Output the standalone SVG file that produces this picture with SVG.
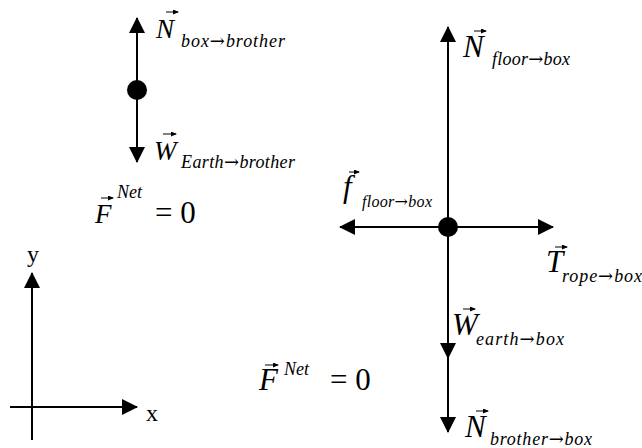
<svg xmlns="http://www.w3.org/2000/svg" width="642" height="448" viewBox="0 0 642 448">
<defs>
<marker id="ah" markerUnits="userSpaceOnUse" markerWidth="16" markerHeight="16" refX="15" refY="8" orient="auto"><path d="M0,0 L16,8 L0,16 z" fill="#000"/></marker>
<marker id="va" markerUnits="userSpaceOnUse" markerWidth="6" markerHeight="6" refX="5" refY="2.5" orient="auto"><path d="M0,0 L6,2.5 L0,5 z" fill="#000"/></marker>
<style>
.ln{stroke:#000;stroke-width:2;fill:none}
.ar{marker-end:url(#ah)}
.vec{stroke:#000;stroke-width:1;marker-end:url(#va)}
text{font-family:"Liberation Serif","Times New Roman",serif;fill:#000}
.m{font-style:italic;font-size:27px}
.M{font-style:italic;font-size:31px}
.s{font-style:italic;font-size:18px}
.t{font-style:italic;font-size:16px}
.a{font-family:"DejaVu Serif",serif;font-style:normal}
.n{font-size:31px}
.ax{font-size:24px}
</style>
</defs>
<g id="connectors">
<line class="ln ar" x1="137" y1="90" x2="137" y2="18"/>
<line class="ln ar" x1="137" y1="90" x2="137" y2="162"/>
<line class="ln ar" x1="448" y1="227" x2="448" y2="27"/>
<line class="ln ar" x1="448" y1="227" x2="448" y2="358"/>
<line class="ln ar" x1="448" y1="356" x2="448" y2="432"/>
<line class="ln ar" x1="448" y1="227" x2="340" y2="227"/>
<line class="ln ar" x1="448" y1="227" x2="553" y2="227"/>
<line class="ln ar" x1="32" y1="440" x2="32" y2="273"/>
<line class="ln ar" x1="10" y1="407" x2="137" y2="407"/>
</g>
<g id="brother">
<circle cx="137" cy="90" r="10" fill="#000"/>
</g>
<g id="box">
<circle cx="448" cy="227" r="10" fill="#000"/>
</g>
<g id="label-N-box-brother">
<text class="m" x="156" y="38">N</text><line class="vec" x1="166" y1="12" x2="178" y2="12"/>
<text class="s" x="181" y="47" textLength="104">box<tspan class="a">→</tspan>brother</text>
</g>
<g id="label-W-earth-brother">
<text class="m" x="154" y="160">W</text><line class="vec" x1="163" y1="134" x2="176" y2="134"/>
<text class="s" x="181" y="168" textLength="114">Earth<tspan class="a">→</tspan>brother</text>
</g>
<g id="label-Fnet-1">
<text class="m" x="95" y="223">F</text><line class="vec" x1="101" y1="198" x2="113" y2="198"/>
<text class="s" x="117" y="198">Net</text>
<text class="n" x="155" y="223">= 0</text>
</g>
<g id="label-N-floor-box">
<text class="M" x="463" y="57">N</text><line class="vec" x1="474" y1="31" x2="486" y2="31"/>
<text class="s" x="492" y="65" textLength="78">floor<tspan class="a">→</tspan>box</text>
</g>
<g id="label-f-floor-box">
<text class="M" x="343" y="197">f</text><line class="vec" x1="349" y1="172" x2="359" y2="172"/>
<text class="t" x="362" y="207" textLength="70">floor<tspan class="a">→</tspan>box</text>
</g>
<g id="label-T-rope-box">
<text class="M" x="546" y="272">T</text><line class="vec" x1="555" y1="247" x2="567" y2="247"/>
<text class="s" x="562" y="282" textLength="80">rope<tspan class="a">→</tspan>box</text>
</g>
<g id="label-W-earth-box">
<text class="M" x="452" y="335">W</text><line class="vec" x1="463" y1="309" x2="475" y2="309"/>
<text class="s" x="476" y="345" textLength="88">earth<tspan class="a">→</tspan>box</text>
</g>
<g id="label-N-brother-box">
<text class="M" x="465" y="437">N</text><line class="vec" x1="476" y1="411" x2="488" y2="411"/>
<text class="s" x="490" y="445" textLength="102">brother<tspan class="a">→</tspan>box</text>
</g>
<g id="label-Fnet-2">
<text class="M" x="259" y="390">F</text><line class="vec" x1="265" y1="365" x2="278" y2="365"/>
<text class="s" x="284" y="375">Net</text>
<text class="n" x="330" y="390">= 0</text>
</g>
<g id="axes-labels">
<text class="ax" x="27" y="262">y</text>
<text class="ax" x="146" y="421">x</text>
</g>
</svg>
